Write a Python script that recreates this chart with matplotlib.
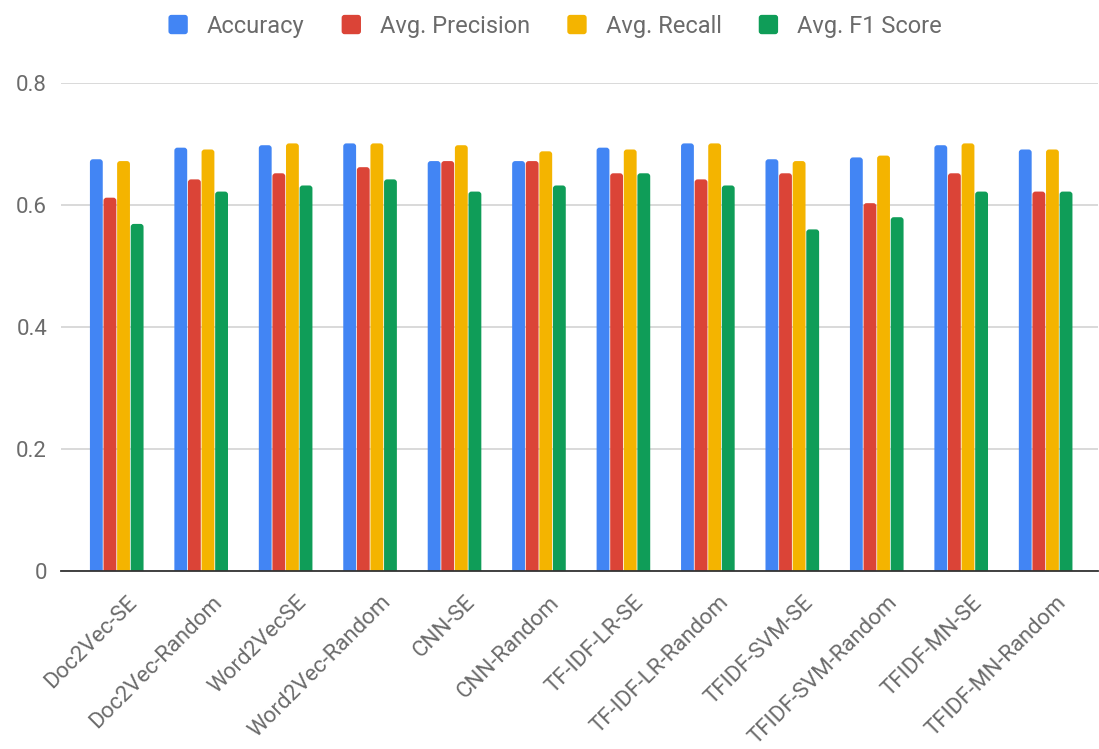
import matplotlib
matplotlib.use("Agg")
import matplotlib.pyplot as plt
import numpy as np
from matplotlib.patches import FancyBboxPatch, Patch
from matplotlib.legend_handler import HandlerBase
from matplotlib.transforms import ScaledTranslation

categories = ["Doc2Vec-SE", "Doc2Vec-Random", "Word2VecSE", "Word2Vec-Random",
              "CNN-SE", "CNN-Random", "TF-IDF-LR-SE", "TF-IDF-LR-Random",
              "TFIDF-SVM-SE", "TFIDF-SVM-Random", "TFIDF-MN-SE", "TFIDF-MN-Random"]
accuracy  = [0.675, 0.694, 0.698, 0.701, 0.672, 0.672, 0.694, 0.701, 0.675, 0.678, 0.698, 0.691]
precision = [0.612, 0.642, 0.652, 0.662, 0.672, 0.672, 0.652, 0.642, 0.652, 0.603, 0.652, 0.622]
recall    = [0.672, 0.691, 0.701, 0.701, 0.698, 0.688, 0.691, 0.701, 0.672, 0.681, 0.701, 0.691]
f1        = [0.569, 0.622, 0.632, 0.642, 0.622, 0.632, 0.652, 0.632, 0.560, 0.580, 0.622, 0.622]
series_names = ["Accuracy", "Avg. Precision", "Avg. Recall", "Avg. F1 Score"]
yticks = [0, 0.2, 0.4, 0.6, 0.8]
ytick_labels = ["0", "0.2", "0.4", "0.6", "0.8"]

colors = ["#4285F4", "#DB4437", "#F4B400", "#0F9D58"]
text_color = "#6b6b6b"
plt.rcParams['font.family'] = ['Roboto', 'DejaVu Sans']

W, H = 1099, 749
fig = plt.figure(figsize=(W / 100, H / 100), dpi=100)
ax_left, ax_right, ax_bottom, ax_top = 61, 1098, 571, 83
ax = fig.add_axes([ax_left / W, 1 - ax_bottom / H, (ax_right - ax_left) / W, (ax_bottom - ax_top) / H])

xlim = (-0.66, 11.62)
ylim = (0, 0.8)
ax.set_xlim(*xlim)
ax.set_ylim(*ylim)

# data units per pixel, used to keep rounded corners circular
xu = (xlim[1] - xlim[0]) / (ax_right - ax_left)
yu = (ylim[1] - ylim[0]) / (ax_bottom - ax_top)
aspect = yu / xu
rad_px = 3.0

x = np.arange(len(categories))
bw = 0.152
step = 0.161
data = [accuracy, precision, recall, f1]
for i, (vals, c, name) in enumerate(zip(data, colors, series_names)):
    offs = (i - 1.5) * step
    bars = ax.bar(x + offs, vals, width=bw, color=c, label=name, zorder=3)
    for r in bars:
        x0, w, h = r.get_x(), r.get_width(), r.get_height()
        r.set_visible(False)
        ext = 0.02
        p = FancyBboxPatch((x0, -ext), w, h + ext,
                           boxstyle=f"round,pad=0,rounding_size={rad_px * xu}",
                           mutation_aspect=aspect, facecolor=c, edgecolor='none',
                           zorder=3)
        ax.add_patch(p)

ax.set_yticks(yticks)
ax.set_yticklabels(ytick_labels, fontsize=16, color=text_color)
ax.yaxis.grid(True, color="#d3d3d3", linewidth=1.2, zorder=0)
ax.set_axisbelow(True)
for s in ["top", "right", "left"]:
    ax.spines[s].set_visible(False)
ax.spines["bottom"].set_color("#333333")
ax.spines["bottom"].set_linewidth(1.3)
ax.spines["bottom"].set_zorder(5)
ax.tick_params(axis='y', length=0, pad=10)
ax.tick_params(axis='x', length=0, pad=15)
ax.set_xticks(x)
ax.set_xticklabels(categories, rotation=45, ha='right', rotation_mode='anchor',
                   fontsize=16, color=text_color)
for lbl in ax.get_xticklabels():
    lbl.set_transform(lbl.get_transform() + ScaledTranslation(0.10, 0, fig.dpi_scale_trans))


class RoundBoxHandler(HandlerBase):
    def create_artists(self, legend, orig_handle, xdescent, ydescent, width, height,
                       fontsize, trans):
        s = min(width, height * 1.0) * 0.95
        cx = -xdescent + width / 2
        cy = -ydescent + height / 2
        p = FancyBboxPatch((cx - s / 2, cy - s / 2), s, s,
                           boxstyle=f"round,pad=0,rounding_size={s * 0.15}",
                           facecolor=orig_handle.get_facecolor(), edgecolor='none',
                           transform=trans)
        return [p]


handles = [Patch(facecolor=c) for c in colors]
fig.legend(handles, series_names, loc='center', bbox_to_anchor=(554.5 / W, 1 - 26 / H),
           ncol=4, frameon=False, fontsize=17, handletextpad=0.75,
           handlelength=0.95, handleheight=0.95,
           columnspacing=1.5, labelcolor=text_color,
           handler_map={Patch: RoundBoxHandler()})

fig.savefig("out.png", dpi=100)
